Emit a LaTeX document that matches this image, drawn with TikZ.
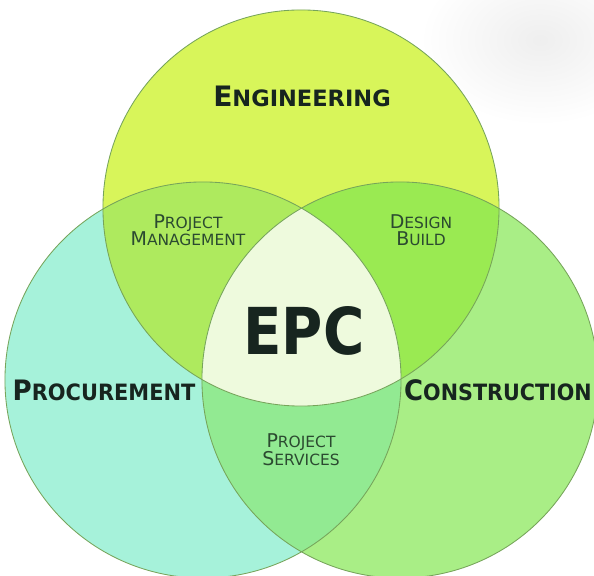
\documentclass[tikz,border=0pt]{standalone}
\usepackage{fontspec}
\setmainfont{DejaVu Sans}
\usepackage{tikz}

\definecolor{engfill}{HTML}{D8F55A}
\definecolor{procfill}{HTML}{A6F2DA}
\definecolor{consfill}{HTML}{A9EE86}
\definecolor{pmfill}{HTML}{AEEA5E}
\definecolor{dbfill}{HTML}{9AEA52}
\definecolor{psfill}{HTML}{92EA92}
\definecolor{epcfill}{HTML}{EEFADD}
\definecolor{rimline}{HTML}{76A45A}
\definecolor{headtext}{HTML}{17251F}
\definecolor{subtext}{HTML}{2B4A30}

\newcommand\initcap[2]{{\fontsize{#1}{#1}\selectfont #2}}
\newcommand\rad{4.95cm}

\tikzset{
  head/.style={font=\bfseries\fontsize{16}{18}\selectfont, text=headtext, inner sep=0pt},
  sub/.style={font=\fontsize{11}{12.5}\selectfont, text=subtext, align=center, inner sep=0pt},
  rim/.style={draw=rimline, line width=0.6pt}
}

\begin{document}
\begin{tikzpicture}[x=0.025cm, y=-0.025cm]
    \useasboundingbox (0,0) rectangle (594,576);
    \clip (0,0) rectangle (594,576);
    \fill[white] (0,0) rectangle (594,576);
    \shade[inner color=gray!13, outer color=white] (540,40) ellipse[x radius=120, y radius=85];

    \coordinate (engc) at (301,208);
    \coordinate (procc) at (203,380);
    \coordinate (consc) at (400,380);

    \fill[procfill] (procc) circle[radius=\rad];
    \fill[consfill] (consc) circle[radius=\rad];
    \fill[engfill] (engc) circle[radius=\rad];
    \begin{scope}
        \clip (engc) circle[radius=\rad];
        \fill[pmfill] (procc) circle[radius=\rad];
        \fill[dbfill] (consc) circle[radius=\rad];
    \end{scope}
    \begin{scope}
        \clip (procc) circle[radius=\rad];
        \fill[psfill] (consc) circle[radius=\rad];
        \clip (consc) circle[radius=\rad];
        \fill[epcfill] (engc) circle[radius=\rad];
    \end{scope}
    \draw[rim] (engc) circle[radius=\rad];
    \draw[rim] (procc) circle[radius=\rad];
    \draw[rim] (consc) circle[radius=\rad];

    \node[head] (eng) at (302,96) {\initcap{20}{E}NGINEERING};
    \node[head, xscale=0.93] (proc) at (104,390) {\initcap{20}{P}ROCUREMENT};
    \node[head, xscale=0.92] (cons) at (498,390) {\initcap{20}{C}ONSTRUCTION};
    \node[head, font=\bfseries\fontsize{46}{46}\selectfont, xscale=0.87] (epc) at (304,331) {EPC};

    \node[sub] (pm) at (188,230) {\initcap{13.5}{P}ROJECT\\\initcap{13.5}{M}ANAGEMENT};
    \node[sub] (db) at (421,230) {\initcap{13.5}{D}ESIGN\\\initcap{13.5}{B}UILD};
    \node[sub] (ps) at (301,450) {\initcap{13.5}{P}ROJECT\\\initcap{13.5}{S}ERVICES};
\end{tikzpicture}
\end{document}
